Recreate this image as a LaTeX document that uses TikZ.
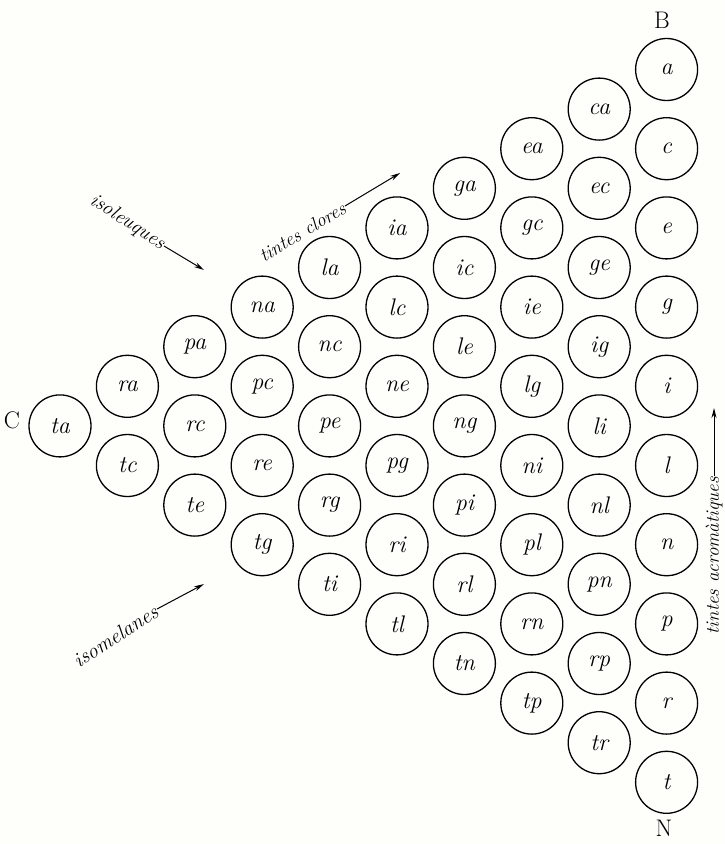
\documentclass[tikz,border=0pt]{standalone}
\usetikzlibrary{arrows.meta}
\definecolor{paper}{RGB}{254,254,250}
\begin{document}
\begin{tikzpicture}[x=1pt,y=-1pt,
  disc/.style={circle,draw=black,line width=1.3pt,minimum size=62pt,inner sep=0pt,
    font=\fontsize{24}{24}\selectfont\itshape},
  lab/.style={inner sep=1pt,anchor=east},
  corner/.style={font=\fontsize{24}{24}\selectfont},
  pointer/.style={line width=1pt,-{Stealth[length=10pt,width=5pt]}}]
\fill[paper] (0,0) rectangle (724,844);
\useasboundingbox (0,0) rectangle (724,844);
\foreach \k/\labs in {1/{ta},2/{ra,tc},3/{pa,rc,te},4/{na,pc,re,tg},5/{la,nc,pe,rg,ti},
  6/{ia,lc,ne,pg,ri,tl},7/{ga,ic,le,ng,pi,rl,tn},8/{ea,gc,ie,lg,ni,pl,rn,tp},
  9/{ca,ec,ge,ig,li,nl,pn,rp,tr},10/{a,c,e,g,i,l,n,p,r,t}}{
  \foreach \l [count=\j] in \labs {
    \node[disc] (c-\k-\j) at ({60+(\k-1)*67.4},{69.5+(10-\k)*39.6+(\j-1)*79.2}) {\l};
  }
}
\node[corner] (B) at (662,20) {B};
\node[corner] (N) at (664,828) {N};
\node[corner] (C) at (12,420) {C};
% isoleuques
\node[lab,rotate=-33,font=\fontsize{20}{20}\selectfont\itshape] (iso1) at (164,246) {isoleuques};
\coordinate (iso1e) at (204,270);
\draw[pointer] (iso1.east) -- (iso1e);
% tintes clores
\node[lab,rotate=31,font=\fontsize{19}{19}\selectfont\itshape] (tcl) at (345,206) {tintes clores};
\coordinate (tcle) at (400,173);
\draw[pointer] (tcl.east) -- (tcle);
% isomelanes
\node[lab,rotate=33,font=\fontsize{21}{21}\selectfont\itshape] (iso2) at (157,609) {isomelanes};
\coordinate (iso2e) at (204,584);
\draw[pointer] (iso2.east) -- (iso2e);
% tintes acromatiques
\node[lab,rotate=90,font=\fontsize{19}{19}\selectfont\itshape] (tac) at (714,476) {tintes acromàtiques};
\coordinate (tace) at (714,408);
\draw[pointer] (tac.east) -- (tace);
\end{tikzpicture}
\end{document}
